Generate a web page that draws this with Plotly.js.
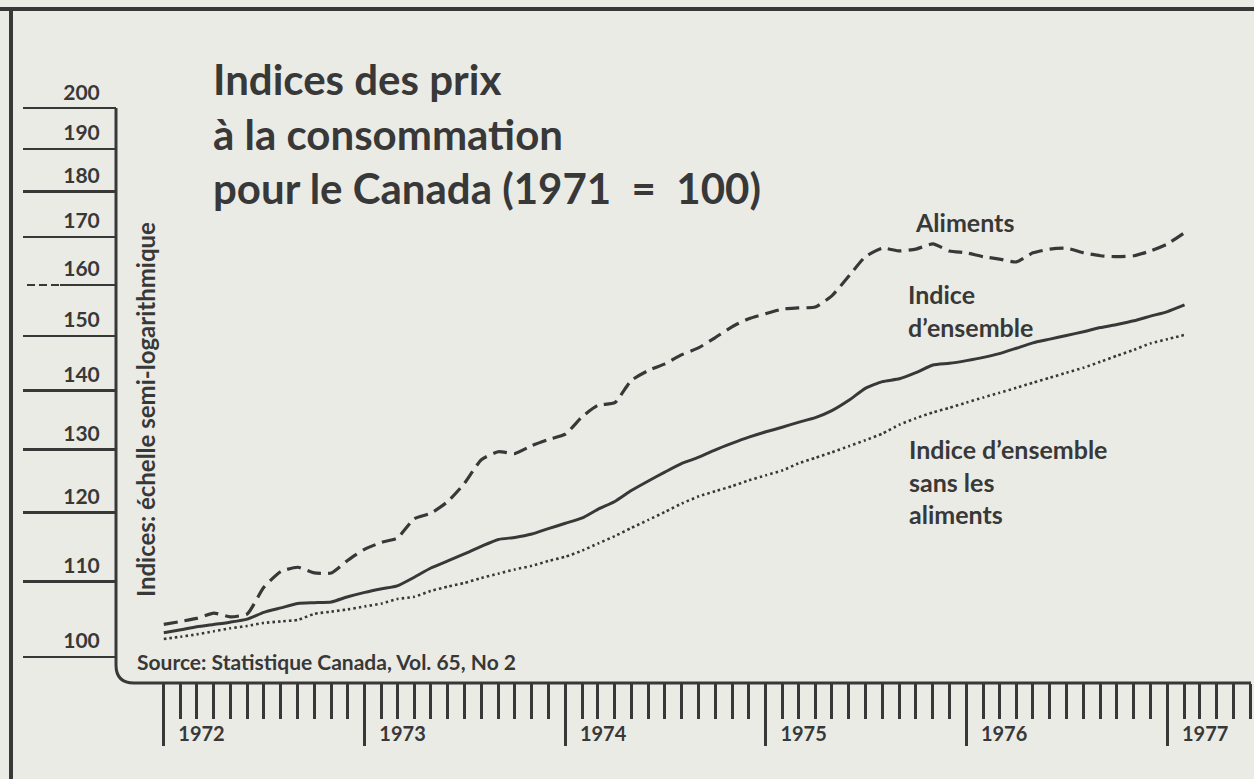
<!DOCTYPE html>
<html>
<head>
<meta charset="utf-8">
<script src="https://cdn.plot.ly/plotly-3.0.1.min.js"></script>
<style>
  html, body { margin: 0; padding: 0; background: #ebebe6; }
  #chart { width: 1254px; height: 779px; }
</style>
</head>
<body>
<div id="chart"></div>
<script>
// ---- Data (monthly, January 1972 onward; index 1971 = 100) ----
const startYear = 1972;
const aliments = [104.2,104.6,105.0,105.7,105.2,105.6,109.2,111.4,112.0,111.2,111.2,113.0,
  114.6,115.6,116.2,119.1,119.9,121.7,124.5,128.3,129.6,129.3,130.6,131.6,
  132.5,135.5,137.4,137.9,141.8,143.6,144.8,146.5,147.8,149.7,151.8,153.3,
  154.3,155.2,155.4,155.6,157.8,161.8,165.8,167.6,167.0,167.4,168.5,167.0,
  166.6,165.8,165.3,164.7,166.6,167.4,167.6,166.6,166.0,165.8,166.0,167.0,
  168.5,170.9];
const ensemble = [103.1,103.5,103.9,104.2,104.5,104.9,105.8,106.4,107.0,107.1,107.2,107.9,
  108.5,109.0,109.4,110.6,111.9,112.9,113.9,115.0,116.0,116.3,116.8,117.6,
  118.4,119.2,120.5,121.7,123.4,124.9,126.3,127.7,128.7,129.9,131.0,132.0,
  132.9,133.7,134.5,135.3,136.5,138.3,140.4,141.6,142.1,143.2,144.6,144.9,
  145.4,146.0,146.7,147.7,148.7,149.4,150.1,150.8,151.6,152.2,152.9,153.8,
  154.7,156.0];
const sansAliments = [102.3,102.6,102.9,103.3,103.7,104.0,104.4,104.6,104.8,105.6,105.9,106.2,
  106.6,107.0,107.6,107.9,108.7,109.3,109.8,110.5,111.1,111.7,112.2,112.9,
  113.5,114.4,115.4,116.5,117.7,118.9,120.1,121.4,122.5,123.3,124.1,125.0,
  125.8,126.6,127.7,128.6,129.5,130.5,131.5,132.6,134.1,135.2,136.2,137.0,
  137.9,138.8,139.6,140.5,141.4,142.3,143.2,144.1,145.2,146.3,147.4,148.6,
  149.4,150.2];
const yTickVals = [100,110,120,130,140,150,160,170,180,190,200];
const yTickText = ['100','110','120','130','140','150','160','170','180','190','200'];

const months = aliments.map((_, i) => {
  const y = startYear + Math.floor(i / 12);
  const m = (i % 12) + 1;
  return y + '-' + String(m).padStart(2, '0') + '-01';
});

// ---- Styling / layout helpers ----
const BG = '#ebebe6';
const INK = '#383838';
const FONT = 'Lato, "Open Sans", sans-serif';
const W = 1254, H = 779;
const L = 116, R = 1251, T = 108, B = 683;
const px = x => (x - L) / (R - L);
const py = y => (B - y) / (B - T);
const yRange = [Math.log10(96.77), Math.log10(200.05)];
const yFrac = v => (Math.log10(v) - yRange[0]) / (yRange[1] - yRange[0]);
const NB = '\u00A0';

const traces = [
  { x: months, y: aliments, name: 'Aliments', mode: 'lines',
    line: { color: INK, width: 3.2, dash: '14px,7px', shape: 'spline', smoothing: 0.5 } },
  { x: months, y: ensemble, name: "Indice d’ensemble", mode: 'lines',
    line: { color: INK, width: 3, shape: 'spline', smoothing: 0.5 } },
  { x: months, y: sansAliments, name: "Indice d’ensemble sans les aliments", mode: 'lines',
    line: { color: INK, width: 2.6, dash: '2.5px,3px', shape: 'spline', smoothing: 0.5 } }
];

const layout = {
  width: W, height: H,
  margin: { l: L, r: W - R, t: T, b: H - B, pad: 0 },
  paper_bgcolor: BG, plot_bgcolor: BG,
  showlegend: false,
  font: { family: FONT, color: INK },
  title: {
    text: 'Indices des prix<br>à la consommation<br>pour le Canada (1971' + NB + ' =' + NB + ' 100)',
    xref: 'container', yref: 'container',
    x: 213 / W, xanchor: 'left',
    y: 1 - 95 / H, yanchor: 'top',
    font: { family: FONT, size: 42, weight: 700, color: INK }
  },
  xaxis: {
    type: 'date',
    domain: [px(155), 1],
    range: ['1971-12-16', '1977-06-02'],
    showline: false, showgrid: false, zeroline: false,
    ticks: 'outside', tick0: '1972-01-01', dtick: 'M12',
    ticklen: 62, tickwidth: 3, tickcolor: INK,
    tickformat: '%Y',
    ticklabelposition: 'outside right',
    ticklabelstandoff: 33,
    ticklabelshift: 13,
    tickfont: { family: FONT, size: 20, weight: 700, color: INK },
    minor: { dtick: 'M1', ticks: 'outside', ticklen: 35, tickwidth: 3, tickcolor: INK, showgrid: false },
    fixedrange: true
  },
  yaxis: {
    type: 'log',
    range: yRange,
    anchor: 'free', position: 0,
    showline: false, showgrid: false, zeroline: false,
    tickmode: 'array', tickvals: yTickVals, ticktext: yTickText,
    ticks: 'outside', ticklen: 93, tickwidth: 2.5, tickcolor: INK,
    ticklabelposition: 'outside top',
    ticklabelstandoff: 12,
    tickfont: { family: FONT, size: 21, weight: 700, color: INK },
    fixedrange: true
  },
  shapes: [
    // axis frame with rounded corner
    { type: 'path', xref: 'paper', yref: 'paper',
      path: 'M ' + px(116) + ',' + py(108) + ' L ' + px(116) + ',' + py(665) +
            ' Q ' + px(116) + ',' + py(683) + ' ' + px(134) + ',' + py(683) +
            ' L ' + px(1251) + ',' + py(683),
      line: { color: INK, width: 3 } },
    // outer page border (top and left)
    { type: 'line', xref: 'paper', yref: 'paper', x0: px(0), x1: px(1254), y0: py(9), y1: py(9),
      line: { color: INK, width: 4 } },
    { type: 'line', xref: 'paper', yref: 'paper', x0: px(11), x1: px(11), y0: py(9), y1: py(779),
      line: { color: INK, width: 4 } },
    // dashed start of the 160 reference tick
    { type: 'line', xref: 'paper', yref: 'paper', x0: px(23), x1: px(60), y0: yFrac(160), y1: yFrac(160),
      line: { color: BG, width: 5, dash: '4px,8px' } }
  ],
  annotations: [
    { text: 'Aliments', xref: 'paper', yref: 'paper', x: px(913), y: py(222),
      xanchor: 'left', yanchor: 'middle', showarrow: false, align: 'left',
      font: { family: FONT, size: 25, weight: 700, color: INK } },
    { text: 'Indice<br>d’ensemble', xref: 'paper', yref: 'paper', x: px(906), y: py(310),
      xanchor: 'left', yanchor: 'middle', showarrow: false, align: 'left',
      font: { family: FONT, size: 25, weight: 700, color: INK } },
    { text: 'Indice d’ensemble<br>sans les<br>aliments', xref: 'paper', yref: 'paper', x: px(907), y: py(482),
      xanchor: 'left', yanchor: 'middle', showarrow: false, align: 'left',
      font: { family: FONT, size: 25, weight: 700, color: INK } },
    { text: 'Source: Statistique Canada, Vol. 65, No 2', xref: 'paper', yref: 'paper', x: px(135), y: py(661),
      xanchor: 'left', yanchor: 'middle', showarrow: false,
      font: { family: FONT, size: 21, weight: 700, color: INK } },
    { text: 'Indices: échelle semi-logarithmique', xref: 'paper', yref: 'paper', x: px(145), y: py(410),
      xanchor: 'center', yanchor: 'middle', showarrow: false, textangle: -90,
      font: { family: FONT, size: 24, weight: 700, color: INK } }
  ]
};

Plotly.newPlot('chart', traces, layout, { displayModeBar: false, staticPlot: true });
</script>
</body>
</html>
